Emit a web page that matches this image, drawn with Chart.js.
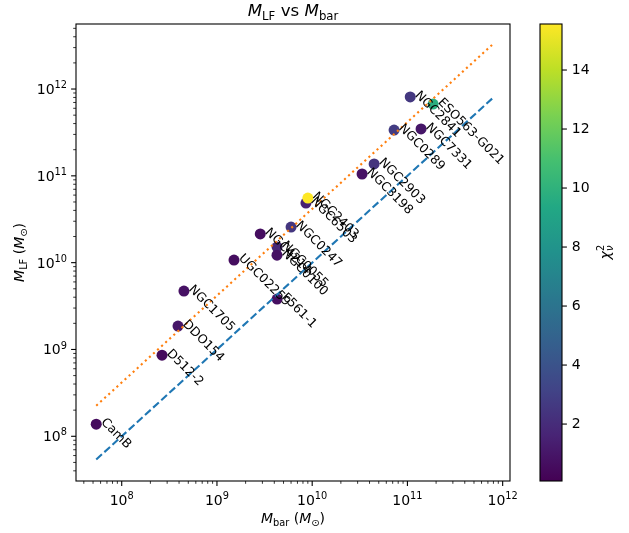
<!DOCTYPE html>
<html lang="en">
<head>
  <meta charset="UTF-8" />
  <title>M_LF vs M_bar</title>
  <script src="https://cdn.jsdelivr.net/npm/chart.js"></script>
  <style>
    html, body { margin: 0; padding: 0; background: #fff; }
    canvas { display: block; }
  </style>
</head>
<body>
  <canvas id="chart" width="629" height="533"></canvas>

  <script>
    // galaxies
    const names = ["CamB", "D512-2", "DDO154", "NGC1705", "UGC02259", "NGC4214", "NGC0055", "NGC0100",
                   "NGC0247", "NGC6503", "NGC2403", "F561-1", "NGC3198", "NGC2903", "NGC0289", "NGC7331",
                   "NGC2841", "ESO563-G021"];
    const mBar = [5.4e7, 2.65e8, 3.9e8, 4.5e8, 1.51e9, 2.85e9, 4.28e9, 4.27e9,
                  6.0e9, 8.6e9, 9.0e9, 4.28e9, 3.34e10, 4.47e10, 7.24e10, 1.39e11,
                  1.07e11, 1.86e11];
    const mLF = [1.38e8, 8.6e8, 1.86e9, 4.7e9, 1.07e10, 2.14e10, 1.51e10, 1.22e10,
                 2.57e10, 4.86e10, 5.55e10, 3.81e9, 1.05e11, 1.37e11, 3.37e11, 3.47e11,
                 8.1e11, 6.7e11];
    const chi2 = [0.5, 0.5, 1.0, 0.8, 0.6, 0.6, 1.8, 0.8,
                  2.5, 1.5, 15.56, 0.7, 0.8, 2.4, 2.8, 1.0,
                  2.6, 9.8];

    // reference lines
    const lineX = [5.4e7, 8.0e11];
    const oneToOne = [5.4e7, 8.0e11];
    const scaled = [2.25e8, 3.33e12];

    const xTicks = [1e8, 1e9, 1e10, 1e11, 1e12];
    const yTicks = [1e8, 1e9, 1e10, 1e11, 1e12];
    const cbTicks = [2, 4, 6, 8, 10, 12, 14];
    const cbMin = 0.07, cbMax = 15.56;

    const viridis = ["#440154", "#482475", "#414487", "#355f8d", "#2a788e", "#21918c",
                     "#22a884", "#44bf70", "#7ad151", "#bddf26", "#fde725"];

    function hexRgb(h) {
      return [1, 3, 5].map(i => parseInt(h.substr(i, 2), 16));
    }
    function cmap(v) {
      let t = (v - cbMin) / (cbMax - cbMin);
      t = Math.max(0, Math.min(1, t));
      const f = t * (viridis.length - 1);
      const i = Math.min(Math.floor(f), viridis.length - 2);
      const a = hexRgb(viridis[i]), b = hexRgb(viridis[i + 1]);
      const k = f - i;
      const c = a.map((x, j) => Math.round(x + (b[j] - x) * k));
      return `rgb(${c[0]},${c[1]},${c[2]})`;
    }

    const FONT = "'DejaVu Sans'";

    // draws text made of pieces with italic / sub / sup parts
    function rich(ctx, parts, x, y, size, align) {
      const pieces = parts.map(p => {
        const s = (p.sub || p.sup) ? size * 0.7 : size;
        const font = (p.it ? "italic " : "") + s + "px " + FONT;
        ctx.font = font;
        return { ...p, font, w: ctx.measureText(p.t).width };
      });
      const total = pieces.reduce((a, p) => a + (p.stack ? 0 : p.w), 0);
      let cx = align === "center" ? x - total / 2 : (align === "right" ? x - total : x);
      ctx.textAlign = "left";
      ctx.textBaseline = "alphabetic";
      pieces.forEach(p => {
        ctx.font = p.font;
        let dy = 0;
        if (p.sub) dy = size * 0.22;
        if (p.sup) dy = -size * 0.42;
        ctx.fillText(p.t, cx, y + dy);
        if (!p.stack) cx += p.w;
      });
    }

    function powLabel(e) {
      return [{ t: "10" }, { t: String(e), sup: true }];
    }

    const decor = {
      id: "decor",
      afterDatasetsDraw(chart) {
        const ctx = chart.ctx;
        const xs = chart.scales.x, ys = chart.scales.y;
        ctx.save();
        ctx.fillStyle = "#000";
        ctx.font = "12.5px " + FONT;
        ctx.textAlign = "left";
        ctx.textBaseline = "top";
        names.forEach((n, i) => {
          const px = xs.getPixelForValue(mBar[i]);
          const py = ys.getPixelForValue(mLF[i]);
          ctx.save();
          ctx.translate(px + 11, py - 8);
          ctx.rotate(Math.PI / 4);
          ctx.fillText(n, 0, 0);
          ctx.restore();
        });
        ctx.restore();
      },
      afterDraw(chart) {
        const ctx = chart.ctx;
        const a = chart.chartArea;
        const xs = chart.scales.x, ys = chart.scales.y;
        ctx.save();
        ctx.strokeStyle = "#000";
        ctx.fillStyle = "#000";

        // frame
        ctx.lineWidth = 1.1;
        ctx.strokeRect(a.left, a.top, a.right - a.left, a.bottom - a.top);

        // log ticks
        for (let e = 7; e <= 12; e++) {
          for (let m = 1; m <= 9; m++) {
            const v = m * Math.pow(10, e);
            const major = m === 1;
            const len = major ? 4.9 : 2.8;
            ctx.lineWidth = major ? 1.1 : 0.8;
            if (v >= xs.min && v <= xs.max) {
              const px = xs.getPixelForValue(v);
              ctx.beginPath();
              ctx.moveTo(px, a.bottom);
              ctx.lineTo(px, a.bottom + len);
              ctx.stroke();
            }
            if (v >= ys.min && v <= ys.max) {
              const py = ys.getPixelForValue(v);
              ctx.beginPath();
              ctx.moveTo(a.left, py);
              ctx.lineTo(a.left - len, py);
              ctx.stroke();
            }
          }
        }
        xTicks.forEach(v => {
          const px = xs.getPixelForValue(v);
          rich(ctx, powLabel(Math.round(Math.log10(v))), px, a.bottom + 24, 14, "center");
        });
        yTicks.forEach(v => {
          const py = ys.getPixelForValue(v);
          rich(ctx, powLabel(Math.round(Math.log10(v))), a.left - 9, py + 5, 14, "right");
        });

        // title and axis labels
        const midX = (a.left + a.right) / 2, midY = (a.top + a.bottom) / 2;
        rich(ctx, [{ t: "M", it: true }, { t: "LF", sub: true }, { t: " vs " },
                   { t: "M", it: true }, { t: "bar", sub: true }], midX, 16, 16.7, "center");
        rich(ctx, [{ t: "M", it: true }, { t: "bar", sub: true }, { t: " (" },
                   { t: "M", it: true }, { t: "\u2299", sub: true }, { t: ")" }], midX, 523, 14, "center");
        ctx.save();
        ctx.translate(24, midY);
        ctx.rotate(-Math.PI / 2);
        rich(ctx, [{ t: "M", it: true }, { t: "LF", sub: true }, { t: " (" },
                   { t: "M", it: true }, { t: "\u2299", sub: true }, { t: ")" }], 0, 0, 14, "center");
        ctx.restore();

        // colorbar
        const cbL = 540, cbR = 562, cbT = a.top, cbB = a.bottom;
        const g = ctx.createLinearGradient(0, cbB, 0, cbT);
        viridis.forEach((c, i) => g.addColorStop(i / (viridis.length - 1), c));
        ctx.fillStyle = g;
        ctx.fillRect(cbL, cbT, cbR - cbL, cbB - cbT);
        ctx.lineWidth = 1.1;
        ctx.strokeRect(cbL, cbT, cbR - cbL, cbB - cbT);
        ctx.fillStyle = "#000";
        ctx.font = "14px " + FONT;
        ctx.textAlign = "left";
        ctx.textBaseline = "middle";
        cbTicks.forEach(v => {
          const py = cbB - (v - cbMin) / (cbMax - cbMin) * (cbB - cbT);
          ctx.beginPath();
          ctx.moveTo(cbR, py);
          ctx.lineTo(cbR + 4.9, py);
          ctx.stroke();
          ctx.fillText(String(v), cbR + 9.8, py);
        });
        ctx.save();
        ctx.translate(610, midY);
        ctx.rotate(-Math.PI / 2);
        rich(ctx, [{ t: "\u03c7", it: true }, { t: "2", sup: true, stack: true }, { t: "\u03bd", sub: true, it: true }],
             0, 0, 14, "center");
        ctx.restore();

        ctx.restore();
      }
    };

    const points = names.map((n, i) => ({ x: mBar[i], y: mLF[i] }));

    new Chart(document.getElementById("chart"), {
      type: "scatter",
      data: {
        datasets: [
          {
            type: "line",
            data: lineX.map((x, i) => ({ x, y: scaled[i] })),
            borderColor: "#ff7f0e",
            borderWidth: 2.1,
            borderDash: [2.1, 3.4],
            pointRadius: 0,
            fill: false,
            order: 0
          },
          {
            type: "line",
            data: lineX.map((x, i) => ({ x, y: oneToOne[i] })),
            borderColor: "#1f77b4",
            borderWidth: 2.1,
            borderDash: [7.7, 3.3],
            pointRadius: 0,
            fill: false,
            order: 1
          },
          {
            data: points,
            backgroundColor: chi2.map(cmap),
            pointRadius: 5.5,
            pointBorderWidth: 0,
            order: 2
          }
        ]
      },
      options: {
        responsive: false,
        animation: false,
        events: [],
        plugins: { legend: { display: false }, tooltip: { enabled: false } },
        layout: { padding: { left: 0, top: 24, right: 119, bottom: 0 } },
        scales: {
          x: {
            type: "logarithmic",
            min: Math.pow(10, 7.52),
            max: Math.pow(10, 12.077),
            grid: { display: false },
            border: { display: false },
            ticks: { display: false },
            afterFit(s) { s.height = 52; }
          },
          y: {
            type: "logarithmic",
            min: Math.pow(10, 7.485),
            max: Math.pow(10, 12.749),
            grid: { display: false },
            border: { display: false },
            ticks: { display: false },
            afterFit(s) { s.width = 76; }
          }
        }
      },
      plugins: [decor]
    });
  </script>
</body>
</html>
